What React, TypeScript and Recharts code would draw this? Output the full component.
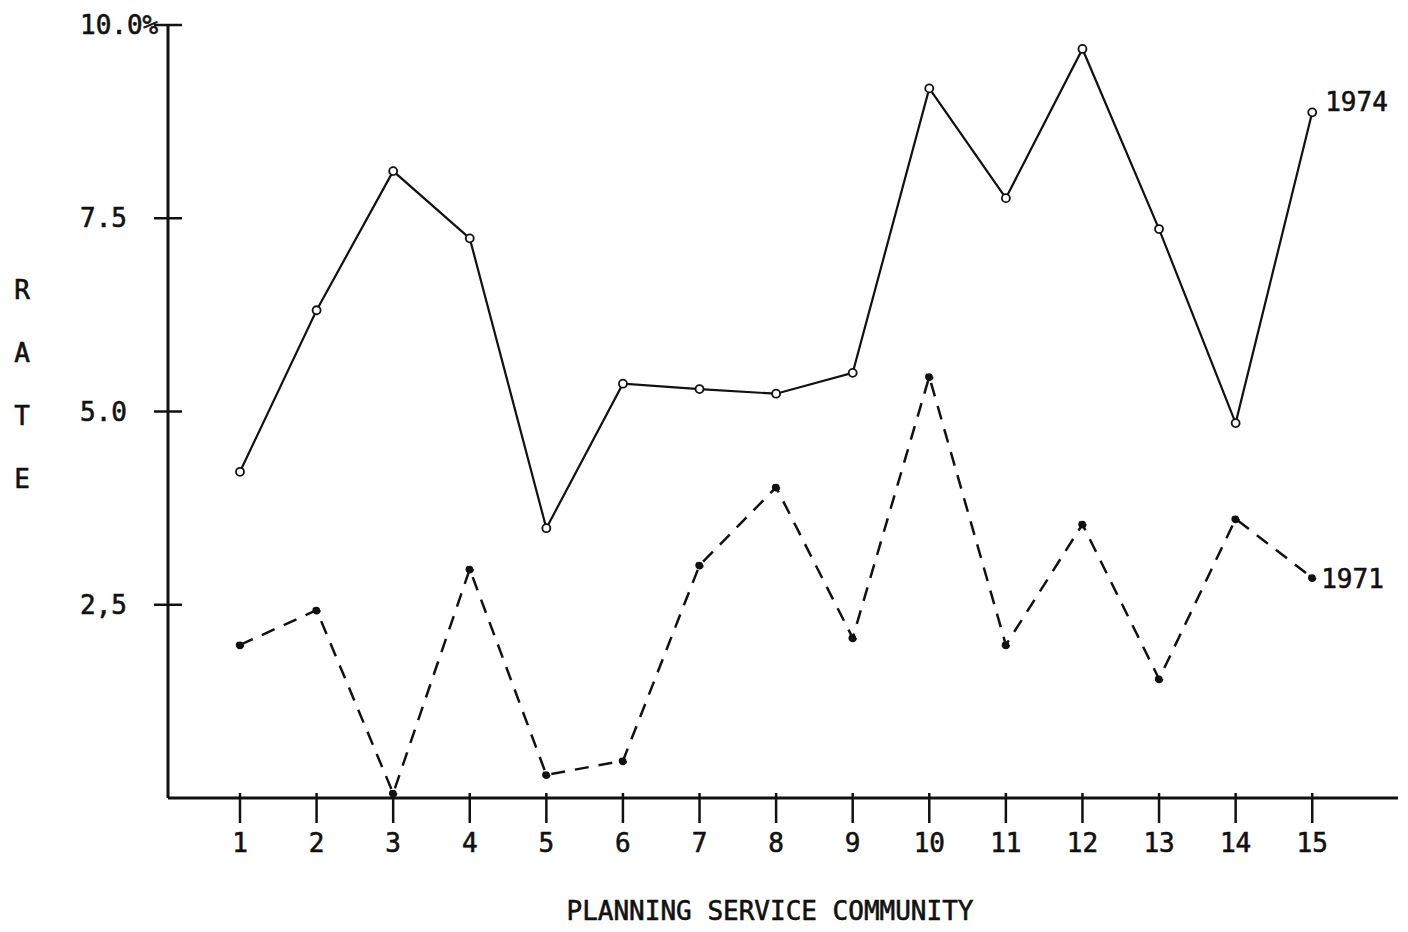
import React from 'react';
import { LineChart, Line, XAxis, YAxis } from 'recharts';

const communities = [1, 2, 3, 4, 5, 6, 7, 8, 9, 10, 11, 12, 13, 14, 15];
const rate1974 = [4.22, 6.31, 8.11, 7.24, 3.49, 5.36, 5.29, 5.23, 5.5, 9.18, 7.76, 9.69, 7.36, 4.85, 8.87];
const rate1971 = [1.98, 2.43, 0.06, 2.96, 0.3, 0.48, 3.01, 4.02, 2.07, 5.45, 1.98, 3.54, 1.54, 3.61, 2.85];
const yTicks = [2.5, 5, 7.5, 10];
const yTickLabels = ['2,5', '5.0', '7.5', '10.0%'];
const seriesNames = ['1974', '1971'];
const xTitle = 'PLANNING SERVICE COMMUNITY';
const yTitle = ['R', 'A', 'T', 'E'];

const data = communities.map((c, i) => ({ psc: c, y1974: rate1974[i], y1971: rate1971[i] }));

const INK = '#111';
const font: React.CSSProperties = {
  fontFamily: '"DejaVu Sans Mono", monospace',
  fontSize: 26,
  fill: INK,
  stroke: INK,
  strokeWidth: 0.6,
};

const XTick = (props: any) => {
  const { x, y, payload } = props;
  return (
    <g>
      <line x1={x} x2={x} y1={y - 30} y2={y} stroke={INK} strokeWidth={2.5} />
      <text x={x} y={y + 29} textAnchor="middle" style={font}>
        {payload.value}
      </text>
    </g>
  );
};

const YTick = (props: any) => {
  const { x, y, payload } = props;
  const idx = yTicks.indexOf(payload.value);
  return (
    <g>
      <line x1={x} x2={x + 28} y1={y} y2={y} stroke={INK} strokeWidth={2.5} />
      <text x={x - 74} y={y + 9} textAnchor="start" style={font}>
        {idx >= 0 ? yTickLabels[idx] : payload.value}
      </text>
    </g>
  );
};

const YTitle = (props: any) => {
  const vb = props.viewBox || { x: 0, y: 0, width: 0, height: 0 };
  const cy = vb.y + vb.height / 2;
  return (
    <g>
      {yTitle.map((ch, i) => (
        <text key={ch + i} x={vb.x + 22} y={cy - 113 + i * 63} textAnchor="middle" style={font}>
          {ch}
        </text>
      ))}
    </g>
  );
};

const XTitle = (props: any) => {
  const vb = props.viewBox || { x: 0, y: 0, width: 0, height: 0 };
  return (
    <text x={vb.x + vb.width / 2 - 13} y={vb.y + 122} textAnchor="middle" style={font}>
      {xTitle}
    </text>
  );
};

const endLabel = (name: string, dx: number, dy: number) => (props: any) => {
  const { x, y, index } = props;
  if (index !== data.length - 1) return null;
  return (
    <text x={x + dx} y={y + dy + 9} textAnchor="start" style={font}>
      {name}
    </text>
  );
};

export default function App() {
  return (
    <div style={{ position: 'absolute', left: 0, top: 0, background: '#fff' }}>
      <LineChart
        width={1408}
        height={932}
        data={data}
        margin={{ top: 25, right: 10, bottom: 74, left: 0 }}
      >
        <XAxis
          dataKey="psc"
          type="number"
          domain={[0.06, 16.12]}
          ticks={communities}
          interval={0}
          allowDataOverflow
          height={60}
          tickSize={25}
          tickMargin={0}
          tickLine={false}
          axisLine={{ stroke: INK, strokeWidth: 3 }}
          tick={<XTick />}
          label={(p: any) => <XTitle {...p} />}
        />
        <YAxis
          type="number"
          domain={[0, 10]}
          ticks={yTicks}
          interval={0}
          width={168}
          tickSize={14}
          tickMargin={0}
          tickLine={false}
          axisLine={{ stroke: INK, strokeWidth: 3 }}
          tick={<YTick />}
          label={(p: any) => <YTitle {...p} />}
        />
        <Line
          dataKey="y1974"
          name={seriesNames[0]}
          stroke={INK}
          strokeWidth={2.2}
          dot={{ r: 4, stroke: INK, strokeWidth: 1.8, fill: '#fff' }}
          isAnimationActive={false}
          label={endLabel(seriesNames[0], 13, -10)}
        />
        <Line
          dataKey="y1971"
          name={seriesNames[1]}
          stroke={INK}
          strokeWidth={2.5}
          strokeDasharray="14 10"
          dot={{ r: 3.5, stroke: INK, strokeWidth: 1.5, fill: INK }}
          isAnimationActive={false}
          label={endLabel(seriesNames[1], 9, 1)}
        />
      </LineChart>
    </div>
  );
}
